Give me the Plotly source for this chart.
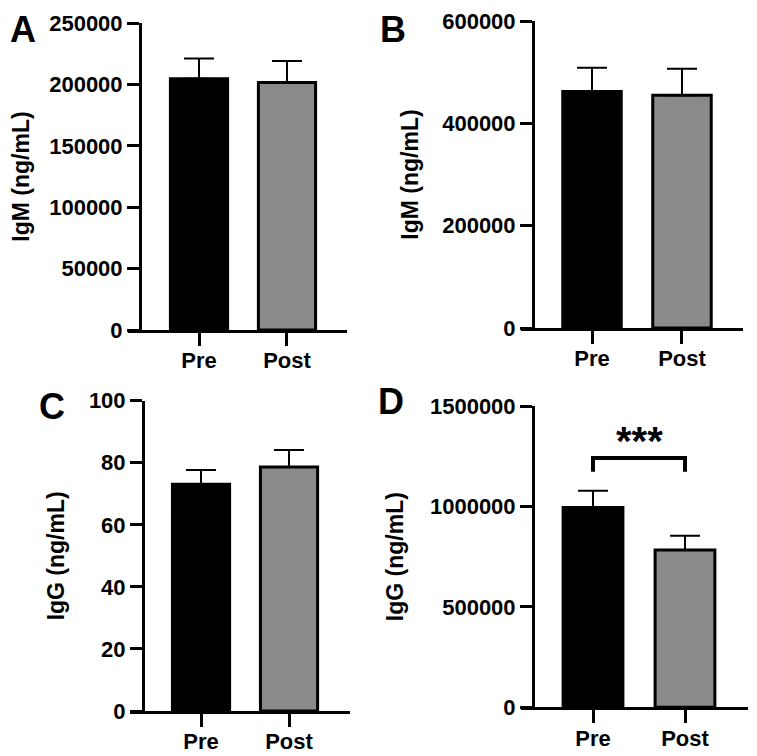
import plotly.graph_objects as go

categories = ["Pre", "Post"]

igm_a_means = [204500, 201500]
igm_a_errs = [16500, 17500]

igm_b_means = [462000, 455000]
igm_b_errs = [46500, 51500]

igg_c_means = [73.1, 78.6]
igg_c_errs = [4.6, 5.5]

igg_d_means = [995000, 783000]
igg_d_errs = [83000, 71000]

bracket_x = ["Pre", "Pre", "Post", "Post"]
bracket_y = [1173000, 1241000, 1241000, 1173000]
sig_label = "***"
sig_y = 1325000

panel_letters = ["A", "B", "C", "D"]
y_titles = ["IgM (ng/mL)", "IgM (ng/mL)", "IgG (ng/mL)", "IgG (ng/mL)"]
y_tickvals = [
    [0, 50000, 100000, 150000, 200000, 250000],
    [0, 200000, 400000, 600000],
    [0, 20, 40, 60, 80, 100],
    [0, 500000, 1000000, 1500000],
]
y_ranges = [[0, 250000], [0, 600000], [0, 100], [0, 1500000]]

OFF = 8  # page body margin
W, H = 757 - OFF, 756 - OFF
FONT = "Liberation Sans, Arial, Helvetica, sans-serif"
bar_colors = ["#000000", "#8a8a8a"]

# layout geometry in window pixels: x-axis line extent, y-axis x position, y top, y zero
geo = [
    dict(x0=128, x1=347, yx=140, yt=23, yb=330, xr=[-0.807, 1.682]),
    dict(x0=521, x1=743, yx=533, yt=21, yb=328, xr=[-0.789, 1.678]),
    dict(x0=130, x1=350, yx=143, yt=400.7, yb=711, xr=[-0.807, 1.693]),
    dict(x0=521, x1=748, yx=533, yt=406, yb=707.3, xr=[-0.783, 1.685]),
]
letter_pos = [(23, 29), (393, None), (52, 406), (391, 401)]
title_std = [16, 16, 16, 18]


def px(v):
    return (v - OFF) / W


def py(v):
    return 1 - (v - OFF) / H


means = [igm_a_means, igm_b_means, igg_c_means, igg_d_means]
errs = [igm_a_errs, igm_b_errs, igg_c_errs, igg_d_errs]

fig = go.Figure()
layout = dict(
    width=W, height=H, margin=dict(l=0, r=0, t=0, b=0),
    paper_bgcolor="white", plot_bgcolor="white", showlegend=False,
    font=dict(family=FONT, color="black"),
)
annotations = []

for i in range(4):
    g = geo[i]
    xa = "x" if i == 0 else f"x{i+1}"
    ya = "y" if i == 0 else f"y{i+1}"
    fig.add_trace(go.Bar(
        x=categories, y=means[i], width=0.65,
        marker=dict(color=bar_colors, line=dict(color="black", width=3)),
        error_y=dict(type="data", symmetric=False, array=errs[i],
                     arrayminus=[0, 0], color="black", thickness=2, width=15),
        xaxis=xa, yaxis=ya,
    ))
    xkey = "xaxis" if i == 0 else f"xaxis{i+1}"
    ykey = "yaxis" if i == 0 else f"yaxis{i+1}"
    layout[xkey] = dict(
        domain=[px(g["x0"]), px(g["x1"])], anchor=ya, range=g["xr"],
        type="category", showline=True, linecolor="black", linewidth=3,
        ticks="outside", ticklen=13, tickwidth=3, tickcolor="black",
        ticklabelstandoff=-4,
        showgrid=False, zeroline=False, automargin=False,
        tickfont=dict(family=FONT, size=22, weight="bold", color="black"),
    )
    layout[ykey] = dict(
        domain=[py(g["yb"]), py(g["yt"])], anchor="free",
        position=px(g["yx"]), range=y_ranges[i],
        tickvals=y_tickvals[i], tickformat="d", ticklabeloverflow="allow",
        showline=True, linecolor="black", linewidth=3,
        ticks="outside", ticklen=12, tickwidth=3, tickcolor="black",
        showgrid=False, zeroline=False, automargin=False,
        tickfont=dict(family=FONT, size=22, weight="bold", color="black"),
        title=dict(text=y_titles[i], standoff=title_std[i],
                   font=dict(family=FONT, size=23, weight="bold", color="black")),
    )
    lx, ly = letter_pos[i]
    if ly is None:
        annotations.append(dict(
            text=panel_letters[i], xref="paper", yref="paper",
            x=px(lx), y=1, xanchor="center", yanchor="top",
            showarrow=False, borderpad=0,
            font=dict(family=FONT, size=36, weight="bold", color="black"),
        ))
    else:
        annotations.append(dict(
            text=panel_letters[i], xref="paper", yref="paper",
            x=px(lx), y=py(ly), xanchor="center", yanchor="middle",
            showarrow=False,
            font=dict(family=FONT, size=36, weight="bold", color="black"),
        ))

fig.add_trace(go.Scatter(
    x=bracket_x, y=bracket_y, mode="lines",
    line=dict(color="black", width=4), xaxis="x4", yaxis="y4",
    hoverinfo="skip",
))
annotations.append(dict(
    text=sig_label, xref="x4", yref="y4", x=0.5, y=sig_y,
    xanchor="center", yanchor="middle", showarrow=False,
    font=dict(family=FONT, size=40, weight="bold", color="black"),
))

layout["annotations"] = annotations
fig.update_layout(**layout)
fig.write_html("out.html")
